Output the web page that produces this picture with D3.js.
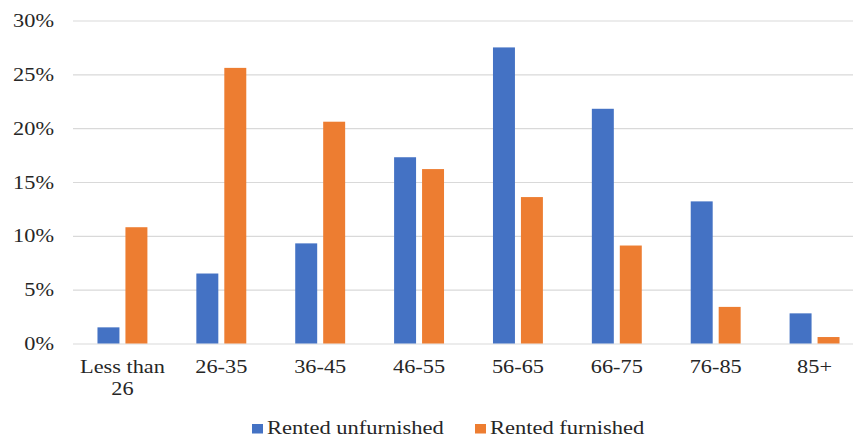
<!DOCTYPE html>
<html>
<head>
<meta charset="utf-8">
<script src="https://cdn.jsdelivr.net/npm/d3@7"></script>
<style>
  html, body { margin: 0; padding: 0; background: #fff; }
  svg { display: block; }
  text { font-family: "Liberation Serif", "Times New Roman", serif; fill: #262626; }
</style>
</head>
<body>
<svg id="chart" width="853" height="439"></svg>
<script>
// Age bands and the share of tenants (%) in each
const categories = ["Less than 26", "26-35", "36-45", "46-55", "56-65", "66-75", "76-85", "85+"];
const seriesNames = ["Rented unfurnished", "Rented furnished"];
const rentedUnfurnished = [1.5, 6.5, 9.3, 17.3, 27.5, 21.8, 13.2, 2.8];
const rentedFurnished = [10.8, 25.6, 20.6, 16.2, 13.6, 9.1, 3.4, 0.6];
const yTicks = [0, 5, 10, 15, 20, 25, 30];
const colors = ["#4472C4", "#ED7D31"];

const seriesValues = [rentedUnfurnished, rentedFurnished];
const svg = d3.select("#chart");
const margin = { left: 73, right: -11, top: 20.5, bottom: 95.5 };
const W = 853, H = 439;
const stretch = 1.24;   // horizontal stretch of the serif lettering

const x = d3.scaleBand()
  .domain(categories)
  .range([margin.left, W - margin.right])
  .paddingInner(0.495)
  .paddingOuter(0.2475);

const xs = d3.scaleBand()
  .domain(seriesNames)
  .range([0, x.bandwidth()])
  .paddingInner(6 / 28);

const y = d3.scaleLinear()
  .domain([0, 30])
  .range([H - margin.bottom, margin.top]);

// Gridlines and y tick labels
const yAxis = svg.append("g")
  .attr("transform", `translate(${margin.left},0)`)
  .call(d3.axisLeft(y).tickValues(yTicks).tickSize(-(W - margin.left)).tickFormat(d => d + "%"));
yAxis.select(".domain").remove();
yAxis.selectAll(".tick line").attr("stroke", "#d9d9d9").attr("stroke-width", 1.2);
yAxis.selectAll(".tick text")
  .attr("x", -19 / stretch)
  .attr("dy", "0.34em")
  .attr("transform", `scale(${stretch},1)`)
  .style("font-size", "18px")
  .style("font-family", "'Liberation Serif', serif")
  .style("fill", "#262626");

// Bars
const groups = svg.append("g").selectAll("g")
  .data(categories)
  .join("g")
  .attr("transform", d => `translate(${x(d)},0)`);

groups.selectAll("rect")
  .data((c, i) => seriesNames.map((s, k) => ({ s, k, v: seriesValues[k][i] })))
  .join("rect")
  .attr("x", d => xs(d.s))
  .attr("width", xs.bandwidth())
  .attr("y", d => y(d.v))
  .attr("height", d => y(0) - y(d.v))
  .attr("fill", d => colors[d.k]);

// Category labels (long labels wrap onto a second line)
const xAxis = svg.append("g")
  .attr("transform", `translate(0,${y(0)})`)
  .call(d3.axisBottom(x).tickSize(0).tickFormat(""));
xAxis.select(".domain").remove();
xAxis.selectAll(".tick").each(function (d) {
  const words = d.split(" ");
  const lines = words.length > 2 ? [words.slice(0, -1).join(" "), words[words.length - 1]] : [d];
  const t = d3.select(this).append("text")
    .attr("transform", `scale(${stretch},1)`)
    .attr("text-anchor", "middle")
    .style("font-size", "18px")
    .style("fill", "#262626");
  lines.forEach((ln, i) => {
    t.append("tspan").attr("x", 0).attr("y", 29.5 + i * 22).text(ln);
  });
});

// Legend
const legendStretch = 1.25;
const legend = svg.append("g").attr("transform", "translate(252,434)");
const legendX = [0, 223];
seriesNames.forEach((name, k) => {
  const g = legend.append("g").attr("transform", `translate(${legendX[k]},0)`);
  g.append("rect").attr("x", 0).attr("y", -10).attr("width", 11).attr("height", 9.5).attr("fill", colors[k]);
  g.append("text")
    .attr("x", 15 / legendStretch)
    .attr("y", 0)
    .attr("transform", `scale(${legendStretch},1)`)
    .style("font-size", "18px")
    .text(name);
});
</script>
</body>
</html>
